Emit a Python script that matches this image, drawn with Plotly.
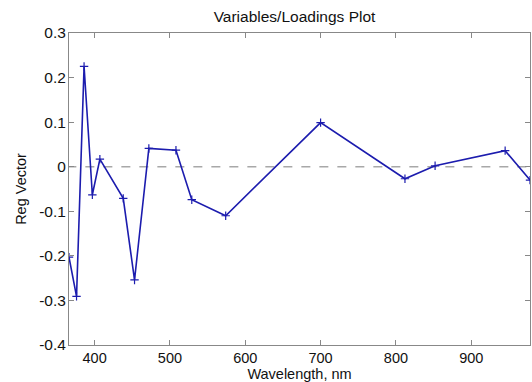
import plotly.graph_objects as go

wavelength = [366, 376, 386, 397, 407, 438, 453, 472, 508, 529, 574, 700, 812, 852, 945, 978]
reg_vector = [-0.203, -0.291, 0.225, -0.063, 0.017, -0.071, -0.254, 0.041, 0.037, -0.074, -0.110, 0.099, -0.027, 0.002, 0.036, -0.030]
y_ticks = [-0.4, -0.3, -0.2, -0.1, 0, 0.1, 0.2, 0.3]
y_tick_labels = ["-0.4", "-0.3", "-0.2", "-0.1", "0", "0.1", "0.2", "0.3"]
x_ticks = [400, 500, 600, 700, 800, 900]

font = "Liberation Sans, Arial, sans-serif"
fs = 15.5
fsx = 14.5

fig = go.Figure()
fig.add_trace(go.Scatter(
    x=[wavelength[0] - 50, wavelength[-1] + 50], y=[0, 0], mode="lines",
    line=dict(color="#a8a8a8", width=1.5, dash="dash"), hoverinfo="skip", showlegend=False))
fig.add_trace(go.Scatter(
    x=wavelength, y=reg_vector, mode="lines+markers",
    line=dict(color="#1c1cae", width=1.6),
    marker=dict(symbol="cross-thin", size=6, line=dict(color="#1c1cae", width=1.2)),
    showlegend=False))

axis_common = dict(
    showline=True, linecolor="#888888", linewidth=1, mirror="ticks",
    ticks="inside", ticklen=5, tickcolor="#888888", showgrid=False, zeroline=False,
)
fig.update_layout(
    width=532, height=382,
    margin=dict(l=69, r=2, t=33, b=37),
    paper_bgcolor="white", plot_bgcolor="white",
    title=dict(text="Variables/Loadings Plot", x=294.5 / 532, xanchor="center", y=1 - 16.5 / 382, yanchor="middle",
               font=dict(family=font, size=fs, color="#111111")),
    xaxis=dict(range=[366, 978], tickvals=x_ticks, **axis_common, ticklabelstandoff=0,
               tickfont=dict(family=font, size=fsx, color="#111111"),
               title=dict(text="Wavelength, nm", standoff=0, font=dict(family=font, size=fsx, color="#111111"))),
    yaxis=dict(range=[-0.4, 0.3], tickvals=y_ticks, ticktext=y_tick_labels, **axis_common, ticklabelstandoff=-1,
               tickfont=dict(family=font, size=fs, color="#111111"),
               title=dict(text="Reg Vector", standoff=9, font=dict(family=font, size=fsx, color="#111111"))),
)
fig.write_html("out.html")
